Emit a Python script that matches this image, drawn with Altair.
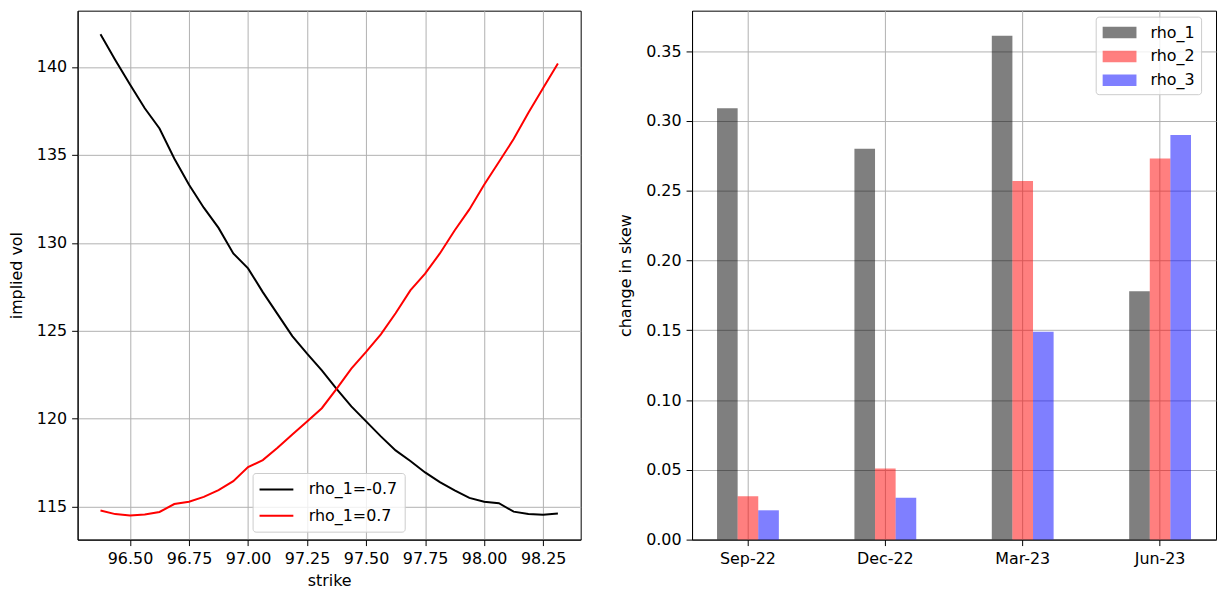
import altair as alt
import pandas as pd

# ---------------- data ----------------
strikes = [96.375, 96.4375, 96.5, 96.5625, 96.625, 96.6875, 96.75, 96.8125,
           96.875, 96.9375, 97.0, 97.0625, 97.125, 97.1875, 97.25, 97.3125,
           97.375, 97.4375, 97.5, 97.5625, 97.625, 97.6875, 97.75, 97.8125,
           97.875, 97.9375, 98.0, 98.0625, 98.125, 98.1875, 98.25, 98.3125]

vol_neg = [141.86, 140.4, 139.0, 137.65, 136.5, 134.8, 133.3, 132.0,
           130.85, 129.4, 128.55, 127.2, 125.95, 124.7, 123.7, 122.75,
           121.7, 120.7, 119.85, 119.0, 118.2, 117.6, 116.95, 116.4,
           115.93, 115.5, 115.28, 115.2, 114.72, 114.58, 114.55, 114.62]

vol_pos = [114.78, 114.58, 114.5, 114.56, 114.7, 115.15, 115.28, 115.56,
           115.94, 116.45, 117.25, 117.65, 118.35, 119.1, 119.85, 120.6,
           121.7, 122.85, 123.8, 124.8, 126.0, 127.3, 128.25, 129.4,
           130.7, 131.9, 133.3, 134.6, 135.9, 137.4, 138.8, 140.2]

line_names = ["rho_1=-0.7", "rho_1=0.7"]

expiries = ["Sep-22", "Dec-22", "Mar-23", "Jun-23"]
bar_series = ["rho_1", "rho_2", "rho_3"]
rho_1 = [0.309, 0.280, 0.361, 0.178]
rho_2 = [0.031, 0.051, 0.257, 0.273]
rho_3 = [0.021, 0.030, 0.149, 0.290]

x_ticks = [96.5, 96.75, 97.0, 97.25, 97.5, 97.75, 98.0, 98.25]
y_ticks = [115, 120, 125, 130, 135, 140]
skew_ticks = [0.0, 0.05, 0.10, 0.15, 0.20, 0.25, 0.30, 0.35]

# ---------------- tables ----------------
line_df = pd.DataFrame(
    [{"strike": s, "vol": v, "series": line_names[0]} for s, v in zip(strikes, vol_neg)]
    + [{"strike": s, "vol": v, "series": line_names[1]} for s, v in zip(strikes, vol_pos)]
)

bar_rows = []
for name, vals in zip(bar_series, [rho_1, rho_2, rho_3]):
    for e, v in zip(expiries, vals):
        bar_rows.append({"expiry": e, "series": name, "value": v})
bar_df = pd.DataFrame(bar_rows)

FONT = "DejaVu Sans"
FS = 16

left = alt.Chart(line_df).mark_line(strokeWidth=2, clip=True).encode(
    x=alt.X("strike:Q",
            scale=alt.Scale(domain=[96.278, 98.409], nice=False, zero=False),
            axis=alt.Axis(values=x_ticks, format=".2f", title="strike", titlePadding=6)),
    y=alt.Y("vol:Q",
            scale=alt.Scale(domain=[113.13, 143.2], nice=False, zero=False),
            axis=alt.Axis(values=y_ticks, format="d", title="implied vol",
                          minExtent=42, maxExtent=42, titlePadding=11)),
    color=alt.Color("series:N",
                    scale=alt.Scale(domain=line_names, range=["black", "red"]),
                    legend=alt.Legend(
                        title=None, orient="none", legendX=176, legendY=465,
                        symbolType="M-2,0H2", symbolSize=289,
                        symbolOffset=7.5, symbolStrokeWidth=2,
                        labelOffset=23, rowPadding=8.6, padding=7,
                        fillColor="rgba(255,255,255,0.8)", strokeColor="#cccccc",
                        cornerRadius=3, labelFont=FONT, labelFontSize=FS,
                        labelColor="black")),
).properties(width=506, height=532)

right = alt.Chart(bar_df).mark_bar(opacity=0.5).encode(
    x=alt.X("expiry:N", sort=expiries,
            scale=alt.Scale(paddingInner=0.55, paddingOuter=0.182),
            axis=alt.Axis(title=None, labelAngle=0, bandPosition=0.5)),
    xOffset=alt.XOffset("series:N", sort=bar_series,
                        scale=alt.Scale(paddingInner=0, paddingOuter=0)),
    y=alt.Y("value:Q",
            scale=alt.Scale(domain=[0, 0.379], nice=False),
            axis=alt.Axis(values=skew_ticks, format=".2f", title="change in skew",
                          minExtent=47, maxExtent=47, titlePadding=12)),
    color=alt.Color("series:N",
                    scale=alt.Scale(domain=bar_series, range=["black", "red", "blue"]),
                    legend=alt.Legend(
                        title=None, orient="none", legendX=406, legendY=6,
                        symbolType="M-1.7,-0.58H1.7V0.58H-1.7Z", symbolSize=400,
                        symbolOpacity=0.5, symbolStrokeWidth=0,
                        symbolOffset=8, labelOffset=21, rowPadding=6, padding=6,
                        fillColor="rgba(255,255,255,0.8)", strokeColor="#cccccc",
                        cornerRadius=3, labelFont=FONT, labelFontSize=FS,
                        labelColor="black")),
).properties(width=527, height=532)

chart = alt.hconcat(left, right, spacing=35).resolve_scale(color="independent").properties(
    padding={"left": 0, "top": 0, "right": 0, "bottom": 0}
).configure_view(
    stroke="black", strokeWidth=1
).configure_axis(
    domainColor="black", domainWidth=1, tickColor="black", tickSize=6, tickWidth=1,
    grid=True, gridColor="#b0b0b0", gridWidth=1,
    labelFont=FONT, labelFontSize=FS, labelColor="black", labelPadding=5,
    titleFont=FONT, titleFontSize=FS, titleFontWeight="normal", titleColor="black"
)

chart.save("out.html", embed_options={"renderer": "svg", "actions": False})
